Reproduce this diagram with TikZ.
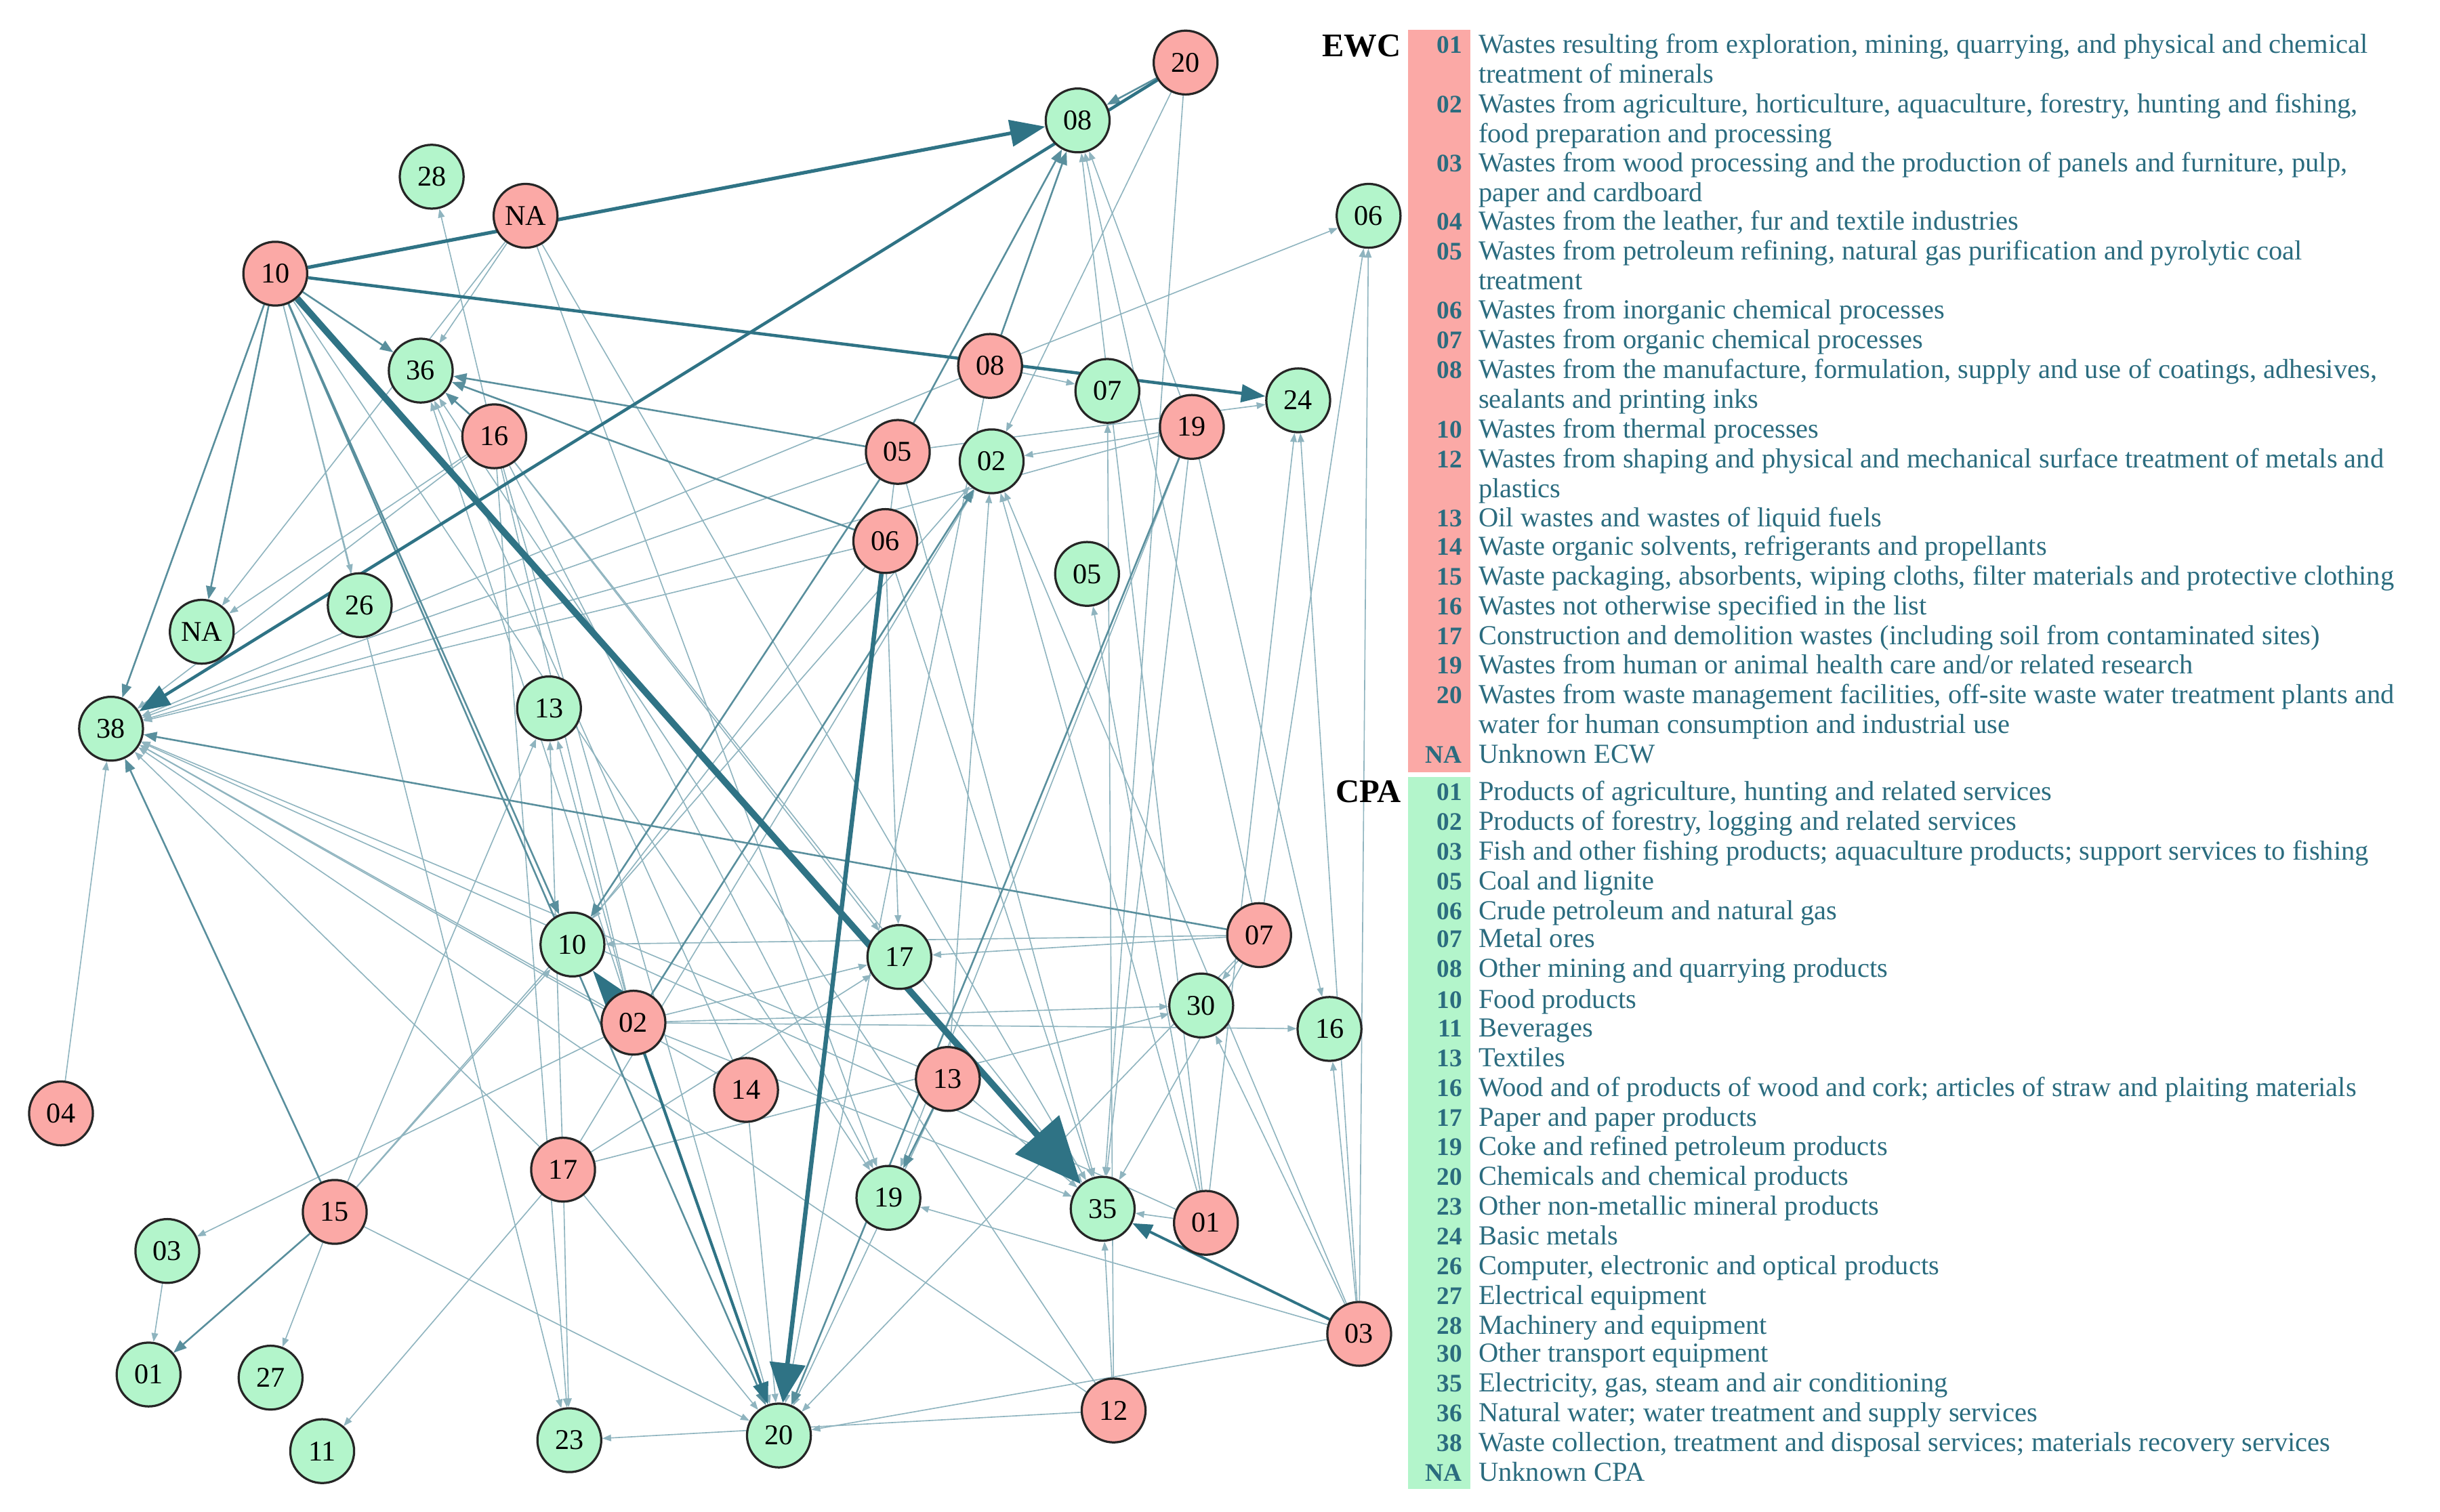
\documentclass[tikz,border=0pt]{standalone}
\usepackage{fontspec}
\setmainfont{Liberation Serif}
\usetikzlibrary{arrows.meta,backgrounds}
\definecolor{teal1}{HTML}{2F7385}
\definecolor{tealL}{HTML}{8FB4BF}
\definecolor{txt}{HTML}{2B6C7F}
\definecolor{rfill}{HTML}{FBA9A6}
\definecolor{gfill}{HTML}{B3F5CB}
\begin{document}
\begin{tikzpicture}[x=0.025cm,y=-0.025cm,
 r/.style={circle,draw=black!85,line width=1pt,fill=rfill,minimum size=1.02cm,inner sep=0pt,font=\fontsize{13}{13}\selectfont},
 g/.style={circle,draw=black!85,line width=1pt,fill=gfill,minimum size=1.02cm,inner sep=0pt,font=\fontsize{13}{13}\selectfont},
 e/.style={draw=tealL,line width=0.5pt,-{Triangle[length=4pt,width=3pt]}},
 m/.style={draw=teal1!80,line width=0.8pt,-{Triangle[length=6pt,width=4.5pt]}},
 code/.style={anchor=base east,font=\bfseries\fontsize{11.5}{11.5}\selectfont,text=txt,inner sep=0pt},
 lt/.style={anchor=base west,font=\fontsize{12.5}{12.5}\selectfont,text=txt,inner sep=0pt},
 hd/.style={anchor=base east,font=\bfseries\fontsize{15}{15}\selectfont,inner sep=0pt}]
\useasboundingbox (0,0) rectangle (1560,966.5);
% legend bars
\fill[rfill] (900,19) rectangle (940,494);
\fill[gfill] (900,497) rectangle (940,952);
\node[hd] (hEWC) at (896,36) {EWC};
\node[hd] (hCPA) at (896,513) {CPA};
% EWC legend
\foreach \c/\y/\t [count=\i] in {
01/29/{Wastes resulting from exploration, mining, quarrying, and physical and chemical},
/48/{treatment of minerals},
02/67/{Wastes from agriculture, horticulture, aquaculture, forestry, hunting and fishing,},
/86/{food preparation and processing},
03/105/{Wastes from wood processing and the production of panels and furniture, pulp,},
/124/{paper and cardboard},
04/142/{Wastes from the leather, fur and textile industries},
05/161/{Wastes from petroleum refining, natural gas purification and pyrolytic coal},
/180/{treatment},
06/199/{Wastes from inorganic chemical processes},
07/218/{Wastes from organic chemical processes},
08/237/{Wastes from the manufacture, formulation, supply and use of coatings, adhesives,},
/256/{sealants and printing inks},
10/275/{Wastes from thermal processes},
12/294/{Wastes from shaping and physical and mechanical surface treatment of metals and},
/313/{plastics},
13/332/{Oil wastes and wastes of liquid fuels},
14/350/{Waste organic solvents, refrigerants and propellants},
15/369/{Waste packaging, absorbents, wiping cloths, filter materials and protective clothing},
16/388/{Wastes not otherwise specified in the list},
17/407/{Construction and demolition wastes (including soil from contaminated sites)},
19/426/{Wastes from human or animal health care and/or related research},
20/445/{Wastes from waste management facilities, off-site waste water treatment plants and},
/464/{water for human consumption and industrial use},
NA/483/{Unknown ECW}}{
 \node[code] (ec\i) at (935,\y+5) {\c};
 \node[lt] (et\i) at (945,\y+5) {\t};
}
% CPA legend
\foreach \c/\y/\t [count=\i] in {
01/507/{Products of agriculture, hunting and related services},
02/526/{Products of forestry, logging and related services},
03/545/{Fish and other fishing products; aquaculture products; support services to fishing},
05/564/{Coal and lignite},
06/583/{Crude petroleum and natural gas},
07/601/{Metal ores},
08/620/{Other mining and quarrying products},
10/640/{Food products},
11/658/{Beverages},
13/677/{Textiles},
16/696/{Wood and of products of wood and cork; articles of straw and plaiting materials},
17/715/{Paper and paper products},
19/734/{Coke and refined petroleum products},
20/753/{Chemicals and chemical products},
23/772/{Other non-metallic mineral products},
24/791/{Basic metals},
26/810/{Computer, electronic and optical products},
27/829/{Electrical equipment},
28/848/{Machinery and equipment},
30/866/{Other transport equipment},
35/885/{Electricity, gas, steam and air conditioning},
36/904/{Natural water; water treatment and supply services},
38/923/{Waste collection, treatment and disposal services; materials recovery services},
NA/942/{Unknown CPA}}{
 \node[code] (cc\i) at (935,\y+5) {\c};
 \node[lt] (ct\i) at (945,\y+5) {\t};
}
% red nodes
\foreach \n/\x/\y in {20/758/40,NA/336/138,10/176/175,08/633/234,16/316/279,05/574/289,19/762/273,06/566/346,07/805/598,02/405/654,14/477/697,13/606/690,17/360/748,15/214/775,01/771/782,03/869/853,12/712/902,04/39/712}
 \node[r] (r\n) at (\x,\y) {\n};
% green nodes
\foreach \n/\x/\y in {08/689/77,28/276/113,06/875/138,36/269/237,07/708/250,24/830/256,02/634/295,05/695/367,26/230/387,NA/129/404,38/71/466,13/351/453,10/366/604,17/575/612,30/768/643,16/850/658,19/568/766,35/705/773,03/107/800,01/95/879,27/173/881,11/206/928,23/364/921,20/498/918}
 \node[g] (g\n) at (\x,\y) {\n};
\begin{scope}[on background layer]
\foreach \a/\b in {rNA/g36,rNA/gNA,rNA/g35,rNA/g19,r10/g23,r10/g19,r16/g20,r16/g35,r16/g19,r16/g17,r16/g23,r16/gNA,r16/g38,
 r08/g07,r08/g38,r08/g20,r05/g35,r05/g38,r05/g20,r06/g35,r06/g17,r19/g02,r19/g08,r19/g16,r19/g19,r19/g38,r19/g35,
 r07/g08,r07/g06,r07/g10,r07/g17,r07/g35,r07/g30,r07/g20,r02/g38,r02/g36,r02/g13,r02/g35,r02/g30,r02/g03,r02/g17,r02/g16,r02/g28,
 r14/g20,r14/g38,r13/g02,r13/g35,r13/g20,r13/g38,r17/g38,r17/g23,r17/g11,r17/g17,r17/g02,r17/g30,r17/g13,
 r15/g27,r15/g13,r15/g20,r15/g02,r15/g10,r01/g08,r01/g35,r01/g24,r01/g38,r01/g02,r01/g05,
 r03/g06,r03/g16,r03/g19,r03/g20,r03/g24,r03/g02,r03/g30,r12/g35,r12/g38,r12/g07,r12/g36,r04/g38,g03/g01,
 r20/g02,r20/g35,r10/g26,r06/g38,r08/g06,r06/g10,r12/g23,r05/g24,r14/g36,r17/g20}
 {\draw[e] (\a) -- (\b);}
\foreach \a/\b in {r10/g36,r10/g38,r10/gNA,r10/g20,r10/g10,r16/g36,r05/g36,r06/g36,r05/g08,r08/g08,r20/g08,r05/g10,
 r15/g38,r15/g01,r07/g38,r02/g02,r19/g20,r13/g19}
 \draw[m] (\a) -- (\b);
\draw[draw=teal1,line width=1.6pt,-{Triangle[length=16pt,width=12pt]}] (r10) -- (g08);
\draw[draw=teal1,line width=3pt,-{Triangle[length=30pt,width=26pt]}] (r10) -- (g35);
\draw[draw=teal1,line width=1.4pt,-{Triangle[length=11pt,width=8pt]}] (r10) -- (g24);
\draw[draw=teal1,line width=1.4pt,-{Triangle[length=14pt,width=10pt]}] (r20) -- (g38);
\draw[draw=teal1,line width=2pt,-{Triangle[length=18pt,width=16pt]}] (r06) -- (g20);
\draw[draw=teal1,line width=1.2pt,-{Triangle[length=16pt,width=10pt]}] (r02) -- (g10);
\draw[draw=teal1,line width=1.3pt,-{Triangle[length=10pt,width=7pt]}] (r02) -- (g20);
\draw[draw=teal1,line width=1.2pt,-{Triangle[length=9pt,width=7pt]}] (r03) -- (g35);
\end{scope}
\end{tikzpicture}
\end{document}
